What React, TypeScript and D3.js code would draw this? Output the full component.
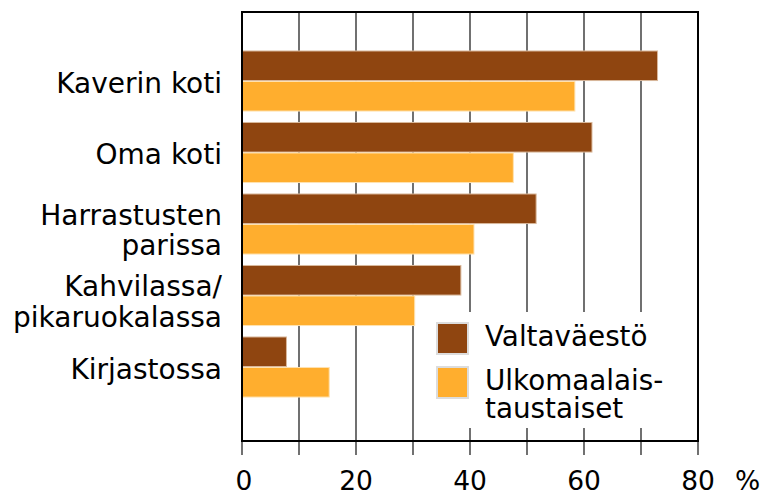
import * as d3 from 'd3';

const categories = ['Kaverin koti', 'Oma koti', 'Harrastusten parissa', 'Kahvilassa/ pikaruokalassa', 'Kirjastossa'];
const categoryLines = [['Kaverin koti'], ['Oma koti'], ['Harrastusten', 'parissa'], ['Kahvilassa/', 'pikaruokalassa'], ['Kirjastossa']];
const seriesNames = ['Valtaväestö', 'Ulkomaalaistaustaiset'];
const seriesLines = [['Valtaväestö'], ['Ulkomaalais-', 'taustaiset']];
const valtavaesto = [72.9, 61.4, 51.6, 38.4, 7.8];
const ulkomaalais = [58.4, 47.6, 40.7, 30.3, 15.3];
const xTicks = [0, 20, 40, 60, 80];
const colors = ['#8f4510', '#ffae2e'];

const width = 767;
const height = 495;
const margins = { top: 12, right: 69, bottom: 54, left: 242 };
const font = '"DejaVu Sans", Verdana, sans-serif';

const App = () => {
  const x = d3
    .scaleLinear()
    .domain([0, 80])
    .range([margins.left, width - margins.right]);
  const y = d3
    .scaleBand()
    .domain(categories)
    .range([margins.top, height - margins.bottom])
    .paddingInner(0.16)
    .paddingOuter(0.58)
    .align(0.47);
  const ySub = d3
    .scaleBand()
    .domain(seriesNames)
    .range([0, y.bandwidth()])
    .paddingInner(0.03);

  const values = [valtavaesto, ulkomaalais];
  const bottom = height - margins.bottom;
  const right = width - margins.right;
  const grid = d3.range(0, 81, 10);

  return (
    <svg
      width={width}
      height={height}
      viewBox={`0 0 ${width} ${height}`}
      style={{ position: 'absolute', left: 0, top: 0, display: 'block', fontFamily: font }}
    >
      <rect x={0} y={0} width={width} height={height} fill="#fff" />
      {/* gridlines + ticks */}
      {grid.map(t => (
        <line key={t} x1={x(t)} x2={x(t)} y1={margins.top} y2={bottom + 14} stroke="#111" strokeWidth={1.2} />
      ))}
      {/* bars */}
      {categories.map((c, i) => (
        <g key={c} transform={`translate(0, ${y(c)})`}>
          {seriesNames.map((s, j) => (
            <rect
              key={s}
              x={x(0)}
              y={ySub(s)}
              width={x(values[j][i]) - x(0)}
              height={ySub.bandwidth()}
              fill={colors[j]}
              stroke={j === 0 ? '#d9b89c' : '#ffe2b0'}
              strokeWidth={1}
            />
          ))}
        </g>
      ))}
      {/* legend */}
      <rect x={416} y={312} width={right - 417} height={116} fill="#fff" />
      {seriesLines.map((lines, j) => {
        const top = 323 + j * 44;
        return (
          <g key={j}>
            <rect x={437} y={top} width={31} height={31} fill={colors[j]} stroke="#dcdcdc" strokeWidth={2} />
            {lines.map((l, k) => (
              <text key={k} x={485} y={top + 23 + k * 28} fontSize={27.8} fill="#000">
                {l}
              </text>
            ))}
          </g>
        );
      })}
      {/* frame */}
      <rect
        x={margins.left}
        y={margins.top}
        width={right - margins.left}
        height={bottom - margins.top}
        fill="none"
        stroke="#000"
        strokeWidth={2}
      />
      {/* category labels */}
      {categories.map((c, i) => {
        const lines = categoryLines[i];
        const cy = (y(c) || 0) + y.bandwidth() / 2;
        const first = lines.length === 1 ? cy + 11.5 : cy + 0.5;
        return (
          <text key={c} x={222} textAnchor="end" fontSize={28} fill="#000">
            {lines.map((l, k) => (
              <tspan key={k} x={222} y={first + k * 30.5}>
                {l}
              </tspan>
            ))}
          </text>
        );
      })}
      {/* x tick labels */}
      {xTicks.map(t => (
        <text key={t} x={x(t) + (t === 0 ? 2 : 0)} y={490} textAnchor="middle" fontSize={26.5} fill="#000">
          {t}
        </text>
      ))}
      <text x={735} y={490} fontSize={26.5} fill="#000">
        %
      </text>
    </svg>
  );
};

export default App;
